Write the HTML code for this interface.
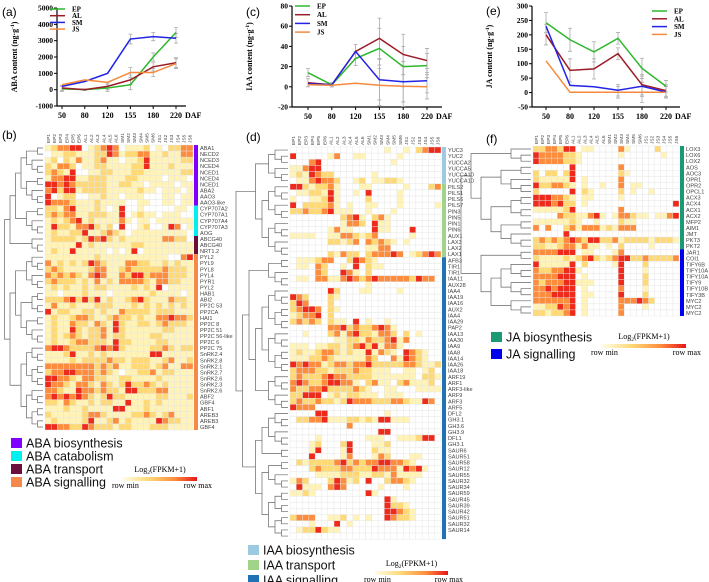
<!DOCTYPE html>
<html><head><meta charset="utf-8"><style>
body{margin:0;background:#fff}
svg{display:block;font-family:"Liberation Sans",sans-serif}
.s{font-family:"Liberation Serif",serif;font-weight:bold}
</style></head><body>
<svg id="fig" width="709" height="582" viewBox="0 0 709 582" xmlns="http://www.w3.org/2000/svg">
<rect width="709" height="582" fill="#fff"/>
<text x="2" y="16" font-size="12">(a)</text>
<text x="2" y="139" font-size="12">(b)</text>
<text x="246" y="16" font-size="12">(c)</text>
<text x="246" y="141" font-size="12">(d)</text>
<text x="486" y="15" font-size="12">(e)</text>
<text x="486" y="143" font-size="12">(f)</text>
</svg>
<script>
const NS="http://www.w3.org/2000/svg";
const svg=document.getElementById('fig');
function mk(tag,attrs,parent,txt){const e=document.createElementNS(NS,tag);for(const k in attrs)e.setAttribute(k,attrs[k]);if(txt!==undefined)e.textContent=txt;(parent||svg).appendChild(e);return e;}

// ---------- line chart data ----------
const days=["50","80","120","155","180","220"];
const seriesNames=["EP","AL","SM","JS"];
const seriesColors=["#2db82d","#9c1c26","#2323e6","#f58a3c"];
const abaEP=[50,0,100,300,2000,3500];
const abaAL=[100,0,200,600,1400,1650];
const abaSM=[200,500,1000,3100,3250,3150];
const abaJS=[300,600,450,1050,1050,1600];
const abaErr=[150,50,200,300,250,300];
const iaaEP=[14,2,28,38,20,21];
const iaaAL=[4,2,35,48,32,26];
const iaaSM=[3,2,35,7,5,6];
const iaaJS=[2,1.5,3.5,1.5,0.5,0];
const iaaErr=[4,2,7,20,20,12];
const jaEP=[242,183,141,188,84,22];
const jaAL=[200,77,82,135,27,7];
const jaSM=[230,25,20,8,22,2];
const jaJS=[110,1,1,1,1,1];
const jaErr=[35,40,35,20,35,20];
const abaTicks=[-1000,0,1000,2000,3000,4000,5000];
const iaaTicks=[-20,0,20,40,60,80];
const jaTicks=[-50,0,50,100,150,200,250,300];

function lineChart(o){
  const g=mk('g',{});  
  const ymin=o.ticks[0],ymax=o.ticks[o.ticks.length-1];
  const Y=v=>o.yBot-(v-ymin)/(ymax-ymin)*(o.yBot-o.yTop);
  const X=i=>o.x0+i*(o.x1-o.x0)/(days.length-1);
  const ax=mk('path',{d:`M${o.ax},${o.yTop}V${o.yBot}H${o.axEnd}`,stroke:'#000','stroke-width':1.2,fill:'none'},g);
  
  o.ticks.forEach(t=>{mk('line',{x1:o.ax-3,x2:o.ax,y1:Y(t),y2:Y(t),stroke:'#000'},g);
    const tl=mk('text',{x:o.ax-4,y:Y(t)+2.5,'font-size':7.5,'text-anchor':'end',class:'s'},g,String(t));
    });
  days.forEach((d,i)=>{mk('line',{x1:X(i),x2:X(i),y1:o.yBot,y2:o.yBot+3,stroke:'#000'},g);
    const xl=mk('text',{x:X(i),y:o.yBot+12,'font-size':8,'text-anchor':'middle',class:'s'},g,d);
    });
  const daf=mk('text',{x:X(days.length-1)+9,y:o.yBot+12,'font-size':8,class:'s'},g,'DAF');
  
  const yt=mk('text',{transform:`translate(${o.ax-40},${(o.yTop+o.yBot)/2}) rotate(-90)`,'font-size':8,'text-anchor':'middle',class:'s'},g);
  
  mk('tspan',{},yt,o.title+' (ng·g');mk('tspan',{dy:-3,'font-size':5.5},yt,'-1');mk('tspan',{dy:3},yt,')');
  o.data.forEach((arr,si)=>{
    arr.forEach((v,i)=>{const e=o.err[i];
      if(si<2||i>2){const l=mk('path',{d:`M${X(i)},${Y(v-e)}V${Y(v+e)}M${X(i)-2},${Y(v-e)}h4M${X(i)-2},${Y(v+e)}h4`,stroke:'#aaa','stroke-width':0.8,fill:'none'},g);
      }});
  });
  o.data.forEach((arr,si)=>{
    const p=mk('polyline',{points:arr.map((v,i)=>X(i)+','+Y(v)).join(' '),stroke:seriesColors[si],'stroke-width':1.5,fill:'none'},g);
    
  });
  seriesNames.forEach((n,si)=>{const y=o.legY+si*o.legDy;
    const le=mk('g',{},g);
    mk('line',{x1:o.legX,x2:o.legX+15,y1:y,y2:y,stroke:seriesColors[si],'stroke-width':1.5},le);
    mk('text',{x:o.legX+22,y:y+2.5,'font-size':7,class:'s'},le,n);});
}
lineChart({name:'chart-aba',ax:57,axEnd:186,yTop:8,yBot:106,x0:62,x1:176,ticks:abaTicks,data:[abaEP,abaAL,abaSM,abaJS],err:abaErr,title:'ABA content',legX:50,legY:9,legDy:6.7});
lineChart({name:'chart-iaa',ax:292,axEnd:442,yTop:6,yBot:107,x0:308,x1:427,ticks:iaaTicks,data:[iaaEP,iaaAL,iaaSM,iaaJS],err:iaaErr,title:'IAA content',legX:295,legY:6,legDy:8.7});
lineChart({name:'chart-ja',ax:532,axEnd:680,yTop:6,yBot:107,x0:546,x1:666,ticks:jaTicks,data:[jaEP,jaAL,jaSM,jaJS],err:jaErr,title:'JA content',legX:652,legY:11,legDy:7.8});

// ---------- heatmap data ----------
const sampleLabels=["EP1","EP2","EP3","EP4","EP5","EP6","AL1","AL2","AL3","AL4","AL5","AL6","SM1","SM2","SM3","SM4","SM5","SM6","JS1","JS2","JS3","JS4","JS5","JS6"];
const abaGenes=["ABA1","NECD2","NCED3","NCED4","NCED1","NCED4","NCED1","ABA2","AAO3","AAO3-like","CYP707A2","CYP707A1","CYP707A4","CYP707A3","AOG","ABCG40","ABCG40","NRT1.2","PYL2","PYL9","PYL8","PYL4","PYR1","PYL2","HAB1","ABI2","PP2C 53","PP2CA","HAI1","PP2C 8","PP2C 51","PP2C 56-like","PP2C 6","PP2C 75","SnRK2.4","SnRK2.8","SnRK2.1","SnRK2.7","SnRK2.6","SnRK2.3","SnRK2.6","ABF2","GBF4","ABF1","AREB3","AREB3","GBF4"];
const abaValues=["123344012343011120102233","011221112243122331121133","120213112311011241111122","213320112211112241112111","232140011221112211111122","133441122211122111101110","443432222211221101111011","342441222211111211011101","401220011211011100011011","433321112111100110011011","221341112101400100000110","232331122211401211011100","121234121111310110111111","142213342120400120014301","121122411232101111111110","122221243421211111133220","111114121111112211111111","121141111101014011111111","111111112111111111110034","312121243211133221121211","232111123311232222232221","323232134311324423332221","232221213121333321332211","121211212211112121401111","110111211101111112111101","222342424121123421113221","131121112221112121212121","412211221211322221222111","121123321123221211334332","121132213214211221232221","121142122314211111122111","121232122312211112211111","121123322214221111221111","344322223434211112232122","111241121211111114411111","111121222232212221123112","333333332323112221231133","233443332321011223122111","443321332211221111211111","433213321321242232121111","332114332322144222331111","343434321242211111221112","221321121221141121211111","111211211114411121111111","211111233211112232123111","121111241123121111432211","443322432221221112221111"];
const abaGroups=[10,5,3,29];
const iaaGenes=["YUC3","YUC2","YUCCA2","YUCCA5","YUCCA10","YUCCA10","PILS2","PILS1","PILS6","PILS7","PIN3","PIN5","PIN1","PIN6","AUX1","LAX3","LAX2","LAX1","AFB3","TIR1","TIR1","IAA11","AUX28","IAA4","IAA19","IAA16","AUX2","IAA4","IAA29","PAP2","IAA13","IAA30","IAA9","IAA8","IAA14","IAA26","IAA18","ARF19","ARF1","ARF3-like","ARF9","ARF3","ARF5","DFL2","GH3.1","GH3.6","GH3.9","DFL1","GH3.1","SAUR6","SAUR51","SAUR58","SAUR12","SAUR55","SAUR32","SAUR34","SAUR59","SAUR45","SAUR39","SAUR42","SAUR51","SAUR32","SAUR14"];
const iaaValues=["000000000000000100102344","400000130011000001000000","000340000000000010000000","113440000000000000000000","121432200000010000000000","011343320012011221000000","442122310001100000100023","011221410010400001000000","100112410000200001000000","402222310100110001000001","223223411100100010000000","000000002341023100000000","000000001332041100000000","000000131100041100040000","111100113321230000010000","000000221230323210100000","000000000000113300000000","000000213220233343012343","011123300243210000000000","011032001040211000000000","000032004310200000000000","011033113432343333324330","000000000000100000000000","000000420001100001000000","432000210000000000000000","243000200000000000000000","234430210000000000000000","123340200000000000000000","232320211040100100000000","000000334232234310000000","001000231342213320201000","000000011221322341300000","111011221234241331000000","121123321211413210432100","111223211111320031432100","434331233233422222332112","233322122232211100110120","232223433222211111110221","343223443310231102311120","322334222232100110001111","224440121221110111000000","232232212433322233211430","433300000000000000000000","000044000000000100000000","022334111221214411100000","000000000300000000000000","000000000000004400000000","000010000000111001112440","000120002400011200000000","000140001400021100000000","000400001300013200011000","021222234232334433210000","000232223322243331434100","000011112221122131111000","132000243120400233210000","041110343000001000100000","112100000000410000000000","000000000000000410000000","000000000000000422100000","000000000000000443210000","233300112010100432210000","000100040100000000000000","012242110000000000000000","000000000000000000000000"];
const iaaGroups=[6,12,46];
const jaGenes=["LOX3","LOX6","LOX2","AOS","AOC3","OPR1","OPR2","OPCL1","ACX3","ACX4","ACX1","ACX2","MFP2","AIM1","JMT","PKT3","PKT2","JAR1","COI1","TIFY6B","TIFY10A","TIFY10A","TIFY9","TIFY10B","TIFY3B","MYC2","MYC2","MYC2"];
const jaValues=["223324401100003100002000","433332210000001000000100","433332210000000000000000","000000400000003000000000","202202400000002100000000","211111401000003000000000","422332101001003011000000","200000402100002010010000","444332101100001000000000","444342201000000000000004","111112400000003000000000","000032211341013321101134","111111210010002110000000","303002313331213330000000","000004000000000000000000","232323432442231222212221","221123313110102000010000","333344401100013000000000","211112123421234422322223","411111402000014000200000","322334410000004000100000","333344401000004000200000","323334411100004000200000","334344401000003000100000","333444401100004000200000","333333401000003334320000","112243401000003000100000","221223401000003000000000"];
const jaGroups=[17,11];

const levelColors=["#ffffff","#fff3b8","#fed976","#fd8d3c","#ee2a1c"];

function tree(node,idx,rowY,xr,step,g){
  if(typeof node==='number'){
    if(node===1) return {y:rowY(idx),h:0,n:1,x:xr};
    const a=Math.floor(node/2);node=[a,node-a];
  }
  const L=tree(node[0],idx,rowY,xr,step,g);
  const R=tree(node[1],idx+L.n,rowY,xr,step,g);
  const h=Math.max(L.h,R.h)+1;const x=xr-h*step;
  mk('path',{d:`M${L.x},${L.y}H${x}V${R.y}H${R.x}`,stroke:'#666','stroke-width':0.7,fill:'none'},g);
  return {y:(L.y+R.y)/2,h:h,n:L.n+R.n,x:x};
}

function heatmap(o){
  const g=mk('g',{});
  const nr=o.genes.length,nc=sampleLabels.length;
  const cw=(o.x1-o.x0)/nc,rh=(o.y1-o.y0)/nr;
  o.values.forEach((row,r)=>{for(let c=0;c<nc;c++){const v=+(row[c]||0);
    const cell=mk('rect',{x:o.x0+c*cw,y:o.y0+r*rh,width:cw,height:rh,fill:levelColors[v],stroke:'#e4e4e4','stroke-width':0.4},g);
    }});
  sampleLabels.forEach((s,c)=>{const t=mk('text',{transform:`translate(${o.x0+c*cw+cw/2+1.8},${o.y0-2}) rotate(-90)`,'font-size':4.8,fill:'#444'},g,s);
    });
  o.genes.forEach((n,r)=>{const t=mk('text',{x:o.x1+7,y:o.y0+r*rh+rh/2+2,'font-size':5.6,fill:'#444'},g,n);
    });
  let r0=0;o.groups.forEach((n,i)=>{const b=mk('rect',{x:o.x1+1,y:o.y0+r0*rh,width:4,height:n*rh,fill:o.groupColors[i]},g);
    r0+=n;});
  const dg=mk('g',{},g);
  tree(o.tree,0,i=>o.y0+i*rh+rh/2,o.x0-2,o.step,dg);
}
heatmap({name:'heatmap-aba',x0:45,x1:193,y0:145,y1:430,genes:abaGenes,values:abaValues,groups:abaGroups,groupColors:["#8000ff","#00f0f0","#6b0f3a","#f5894a"],tree:[[[10,5],3],[[6,9],[7,7]]],step:5.5});
heatmap({name:'heatmap-iaa',x0:290,x1:441,y0:147,y1:533,genes:iaaGenes,values:iaaValues,groups:iaaGroups,groupColors:["#9ecae1","#a1d48a","#2171b5"],tree:[[6,12],[[5,[14,6]],[[6,2],[5,8]]]],step:6.5});
heatmap({name:'heatmap-ja',x0:533,x1:679,y0:146,y1:316,genes:jaGenes,values:jaValues,groups:jaGroups,groupColors:["#1a9a74","#0000ee"],tree:[[3,[5,[4,5]]],[2,[6,3]]],step:10});

// ---------- legends ----------
function groupLegend(name,x,y,dy,items){
  items.forEach((it,i)=>{const g=mk('g',{});
    mk('rect',{x:x,y:y+i*dy,width:11,height:10,fill:it[1]},g);
    mk('text',{x:x+15,y:y+i*dy+9.5,'font-size':12.5,fill:'#111'},g,it[0]);});
}
groupLegend('aba-legend',11,438,13,[["ABA biosynthesis","#8000ff"],["ABA catabolism","#00f0f0"],["ABA transport","#6b0f3a"],["ABA signalling","#f5894a"]]);
groupLegend('iaa-legend',248,545,15,[["IAA biosynthesis","#9ecae1"],["IAA transport","#a1d48a"],["IAA signalling","#2171b5"]]);
groupLegend('ja-legend',491,332,17,[["JA biosynthesis","#1a9a74"],["JA signalling","#0000ee"]]);

const defs=mk('defs',{});
const gr=mk('linearGradient',{id:'cb'},defs);
[["0","#fffde8"],["0.35","#fed976"],["0.7","#fd8d3c"],["1","#e8161b"]].forEach(s=>mk('stop',{offset:s[0],'stop-color':s[1]},gr));
function colorbar(name,x0,x1,y){
  const g=mk('g',{});
  const t=mk('text',{x:(x0+x1)/2,y:y-5,'font-size':8,'text-anchor':'middle',class:'s',style:'font-weight:normal'},g);
  mk('tspan',{},t,'Log');mk('tspan',{dy:2,'font-size':5.5},t,'2');mk('tspan',{dy:-2},t,'(FPKM+1)');
  mk('rect',{x:x0,y:y,width:x1-x0,height:4,fill:'url(#cb)'},g);
  mk('text',{x:x0-11,y:y+11,'font-size':8,class:'s',style:'font-weight:normal'},g,'row min');
  mk('text',{x:x1+15,y:y+11,'font-size':8,'text-anchor':'end',class:'s',style:'font-weight:normal'},g,'row max');
}
colorbar('colorbar-aba',123,197,477);
colorbar('colorbar-iaa',375,448,571);
colorbar('colorbar-ja',602,686,344);
</script>
</body></html>
